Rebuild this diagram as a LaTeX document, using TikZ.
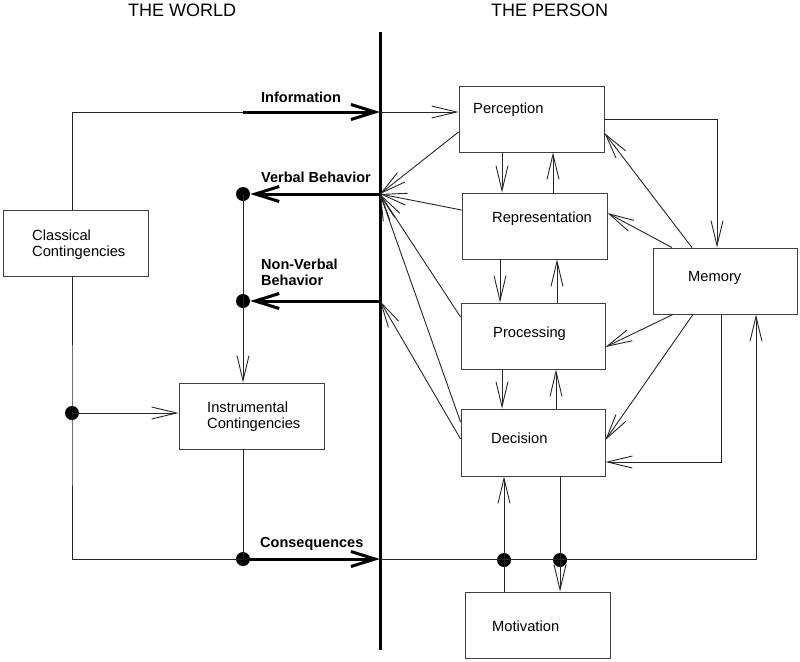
\documentclass[tikz,border=0pt]{standalone}
\usepackage{fontspec}
\setmainfont{Liberation Sans}
\usetikzlibrary{arrows.meta,calc}
\begin{document}
\begin{tikzpicture}[x=1pt,y=-1pt,
  box/.style={draw=black!75,line width=0.9pt,inner sep=0pt,fill=none},
  txt/.style={inner sep=0pt,font=\fontsize{14.7pt}{16.5pt}\selectfont},
  lbl/.style={inner sep=0pt,font=\fontsize{14.5pt}{16pt}\selectfont\bfseries},
  ttl/.style={inner sep=0pt,font=\fontsize{18pt}{20pt}\selectfont},
  thinl/.style={draw=black!85,line width=0.9pt},
  thinarr/.style={thinl,-{Straight Barb[length=25pt,width=12pt,line width=0.9pt]}},
  thickarr/.style={draw=black,line width=3pt,-{Straight Barb[length=24pt,width=15pt,line width=3pt]}},
  dot/.style={circle,fill=black,inner sep=0pt,minimum size=14pt}]
\useasboundingbox (0,0) rectangle (800,661);
\fill[white] (0,0) rectangle (800,661);

% titles
\node[ttl,anchor=base west] (tw) at (128,17) {THE WORLD};
\node[ttl,anchor=base west] (tp) at (491,17) {THE PERSON};

% boxes
\node[box,minimum width=145pt,minimum height=66pt] (cls) at (75.5,243) {};
\node[box,minimum width=145pt,minimum height=66pt] (ins) at (251.5,416) {};
\node[box,minimum width=145pt,minimum height=66pt] (perc) at (531.5,119) {};
\node[box,minimum width=145pt,minimum height=66pt] (rep) at (534.5,226) {};
\node[box,minimum width=144pt,minimum height=66pt] (mem) at (725,281) {};
\node[box,minimum width=144pt,minimum height=66pt] (proc) at (533,336) {};
\node[box,minimum width=144pt,minimum height=67pt] (dec) at (533,442.5) {};
\node[box,minimum width=145pt,minimum height=66pt] (mot) at (537.5,625) {};

% box texts
\node[txt,anchor=base west] (clsT) at (32,240) {\begin{tabular}[t]{@{}l@{}}Classical\\Contingencies\end{tabular}};
\node[txt,anchor=base west] (insT) at (207,412) {\begin{tabular}[t]{@{}l@{}}Instrumental\\Contingencies\end{tabular}};
\node[txt,anchor=base west] (percT) at (473,113) {Perception};
\node[txt,anchor=base west] (repT) at (492,222) {Representation};
\node[txt,anchor=base west] (memT) at (688,281) {Memory};
\node[txt,anchor=base west] (procT) at (493,337) {Processing};
\node[txt,anchor=base west] (decT) at (491,443) {Decision};
\node[txt,anchor=base west] (motT) at (492,631) {Motivation};

% labels
\node[lbl,anchor=base west] (infoL) at (261,102) {Information};
\node[lbl,anchor=base west] (vbL) at (261,182) {Verbal Behavior};
\node[lbl,anchor=base west] (nvbL) at (261,269) {\begin{tabular}[t]{@{}l@{}}Non-Verbal\\Behavior\end{tabular}};
\node[lbl,anchor=base west] (consL) at (260,547) {Consequences};

% coordinates on the divide
\coordinate (vtop) at (380,32);
\coordinate (vbot) at (380,650);
\coordinate (pInfo) at (380,112);
\coordinate (pVB) at (380,194);
\coordinate (pNVB) at (380,301);
\coordinate (pCons) at (380,559);
\coordinate (infoMid) at (243,112);
\coordinate (memUp) at (756,559);

% dots
\node[dot] (dVB) at (243,194) {};
\node[dot] (dNVB) at (243,301) {};
\node[dot] (dCl) at (72,413) {};
\node[dot] (dCons) at (243,559) {};
\node[dot] (dM1) at (504,560) {};
\node[dot] (dM2) at (560,560) {};

% the divide
\draw[line width=3pt] (vtop) -- (vbot);

% world side
\draw[thinl] (cls.north -| dCl) |- (infoMid);
\draw[thickarr] (infoMid) -- (pInfo);
\draw[thinarr] (pInfo) -- (perc.west |- pInfo);
\draw[thickarr] (pVB) -- (dVB);
\draw[thinl] (dVB.center) -- (dNVB.center);
\draw[thickarr] (pNVB) -- (dNVB);
\draw[thinarr] (dNVB.center) -- (ins.north -| dNVB);
\draw[thinl] (cls.south -| dCl) -- (dCl.center) -- (dCl.center |- dCons.center) -- (dCons.center);
\draw[thinarr] (dCl.center) -- (ins.west |- dCl);
\draw[thinl] (ins.south -| dCons) -- (dCons.center);
\draw[thickarr] (dCons) -- (pCons);
\draw[thinarr] (pCons) -- (memUp) -- (mem.south -| memUp);

% motivation
\draw[thinarr] (mot.north -| dM1) -- (dec.south -| dM1);
\draw[thinarr] (dec.south -| dM2) -- (mot.north -| dM2);

% chain of boxes
\draw[thinarr] ([xshift=-29.5pt]perc.south) -- ([xshift=-29.5pt]perc.south |- rep.north);
\draw[thinarr] ([xshift=18.5pt]rep.north) -- ([xshift=18.5pt]rep.north |- perc.south);
\draw[thinarr] ([xshift=-34.5pt]rep.south) -- ([xshift=-34.5pt]rep.south |- proc.north);
\draw[thinarr] ([xshift=24pt]proc.north) -- ([xshift=24pt]proc.north |- rep.south);
\draw[thinarr] ([xshift=-31pt]proc.south) -- ([xshift=-31pt]proc.south |- dec.north);
\draw[thinarr] ([xshift=23pt]dec.north) -- ([xshift=23pt]dec.north |- proc.south);

% memory links
\draw[thinarr] (perc.east) -| ([xshift=-8pt]mem.north);
\draw[thinarr] ([xshift=-33pt]mem.north) -- ([yshift=-14pt]perc.east);
\draw[thinarr] ([xshift=-53pt]mem.north) -- ([yshift=13pt]rep.east);
\draw[thinarr] ([xshift=-52pt]mem.south) -- ([yshift=-11pt]proc.east);
\draw[thinarr] ([xshift=-32pt]mem.south) -- ([yshift=2.5pt]dec.east);
\draw[thinarr] ([xshift=-4pt]mem.south) |- ([yshift=-19.5pt]dec.east);

% fan to the divide
\draw[thinarr] ([yshift=-13pt]perc.west) -- (pVB);
\draw[thinarr] ([yshift=16pt]rep.west) -- (pVB);
\draw[thinarr] ([yshift=19pt]proc.west) -- (pVB);
\draw[thinarr] ([yshift=20.5pt]dec.west) -- (pVB);
\draw[thinarr] ([yshift=3.5pt]dec.west) -- (pNVB);
\end{tikzpicture}
\end{document}
